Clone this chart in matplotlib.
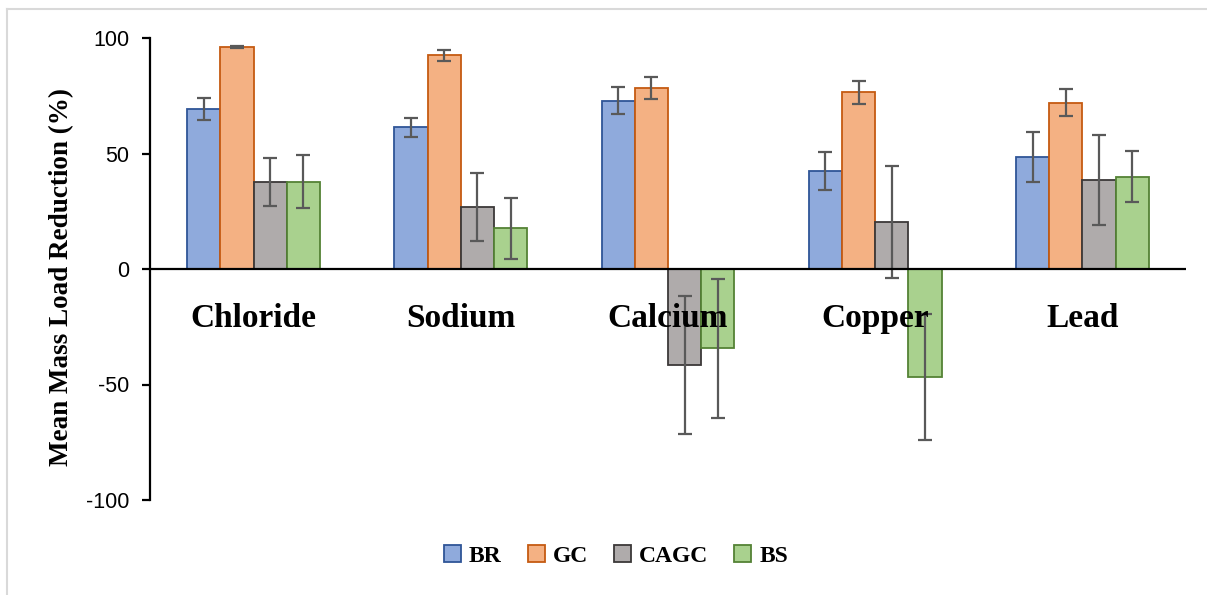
import matplotlib
matplotlib.use('Agg')
import matplotlib.pyplot as plt
import numpy as np
from matplotlib.lines import Line2D

plt.rcParams['axes.unicode_minus'] = False

# --- Data ---
categories = ['Chloride', 'Sodium', 'Calcium', 'Copper', 'Lead']
series = ['BR', 'GC', 'CAGC', 'BS']
br = [69.3, 61.3, 72.9, 42.4, 48.3]
gc = [96.2, 92.5, 78.5, 76.6, 72.0]
cagc = [37.8, 27.0, -41.4, 20.3, 38.5]
bs = [37.8, 17.7, -34.3, -46.6, 40.0]
br_err = [4.8, 4.2, 6.0, 8.4, 10.8]
gc_err = [0.5, 2.4, 4.7, 5.0, 5.8]
cagc_err = [10.4, 14.7, 29.9, 24.4, 19.5]
bs_err = [11.5, 13.2, 30.0, 27.3, 11.2]

fills = ['#8FAADC', '#F4B183', '#AFABAB', '#A9D18E']
edges = ['#2F5597', '#C55A11', '#3B3838', '#548235']

W, H = 1207, 595
fig = plt.figure(figsize=(W / 100, H / 100), dpi=100)
ax = fig.add_axes([150 / W, (H - 500) / H, (1186 - 150) / W, (500 - 38) / H])

x = np.arange(len(categories))
bw = 0.16
vals = [br, gc, cagc, bs]
errs = [br_err, gc_err, cagc_err, bs_err]
for i, (v, e) in enumerate(zip(vals, errs)):
    pos = x + (i - 1.5) * bw
    ax.bar(pos, v, bw, color=fills[i], edgecolor=edges[i], linewidth=1.3,
           label=series[i], zorder=2)
    ax.errorbar(pos, v, yerr=e, fmt='none', ecolor='#595959', elinewidth=1.6,
                capsize=5, capthick=1.6, zorder=3)

ax.axhline(0, color='black', lw=1.6, zorder=4)
ax.set_xlim(-0.5, len(categories) - 0.5)
ax.set_ylim(-100, 100)
ax.set_yticks([-100, -50, 0, 50, 100])
ax.set_xticks([])
for s in ['top', 'right', 'bottom']:
    ax.spines[s].set_visible(False)
ax.spines['left'].set_linewidth(1.6)
ax.tick_params(axis='y', direction='out', length=6, width=1.6, pad=9, labelsize=15.5)
for lbl in ax.get_yticklabels():
    lbl.set_fontfamily('Liberation Sans')

# category names sit over the bars
for i, c in enumerate(categories):
    ax.text(i, -21.3, c, ha='center', va='center', fontsize=24, fontweight='bold',
            family='Liberation Serif', zorder=5)

ax.set_ylabel('Mean Mass Load Reduction (%)', fontsize=19.5, fontweight='bold',
              family='Liberation Serif', va='center')
ax.yaxis.set_label_coords((62 - 150) / 1036, (500 - 277) / 462)

leg = ax.legend(loc='center', bbox_to_anchor=(616 / W, 1 - 556 / H),
                bbox_transform=fig.transFigure, ncol=4, frameon=False,
                prop={'family': 'Liberation Serif', 'weight': 'bold', 'size': 17},
                handlelength=0.72, handleheight=0.72, handletextpad=0.35, columnspacing=1.1)

# light frame lines (left and top)
fig.add_artist(Line2D([7 / W, 7 / W], [0, 1 - 9 / H], color='#D9D9D9', lw=1.5,
                      transform=fig.transFigure))
fig.add_artist(Line2D([7 / W, 1], [1 - 9 / H, 1 - 9 / H], color='#D9D9D9', lw=1.5,
                      transform=fig.transFigure))

fig.savefig('out.png', dpi=100, facecolor='white')
plt.close()
